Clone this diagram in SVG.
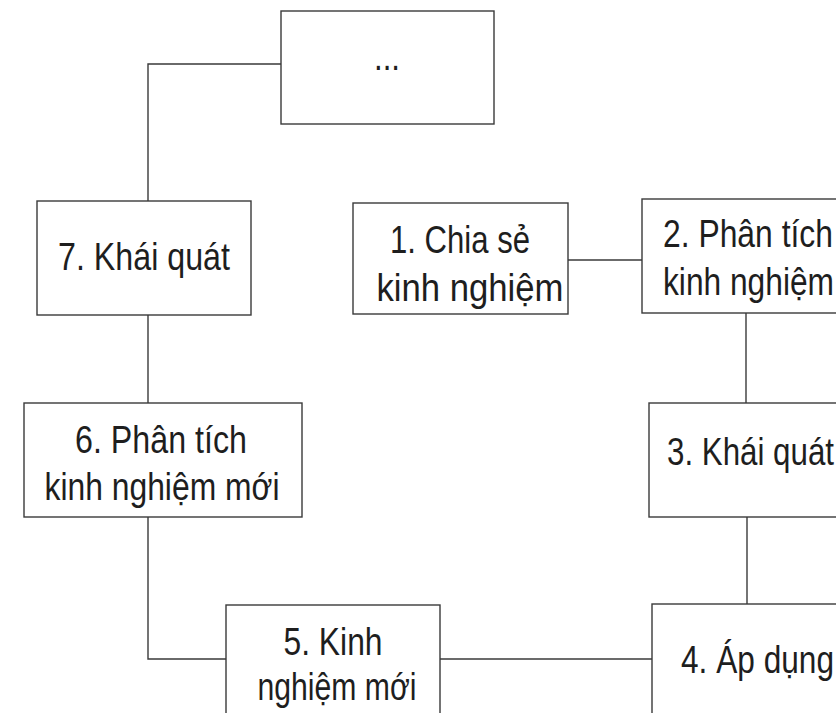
<svg xmlns="http://www.w3.org/2000/svg" width="836" height="713" viewBox="0 0 836 713">
  <style>
    .box { fill: #ffffff; stroke: #3a3a3a; stroke-width: 1.4; }
    .conn { fill: none; stroke: #3a3a3a; stroke-width: 1.4; }
    .lbl { font-family: "Liberation Sans", Arial, sans-serif; font-size: 38px; fill: #1e1e1e; }
    .mid { text-anchor: middle; }
  </style>
  <rect width="836" height="713" fill="#ffffff"/>
  <g id="connectors">
    <path class="conn" d="M281,64 H148 V201"/>
    <path class="conn" d="M148,315 V403"/>
    <path class="conn" d="M148,517 V659 H226"/>
    <path class="conn" d="M440,659 H652"/>
    <path class="conn" d="M747,604 V517"/>
    <path class="conn" d="M746,403 V313"/>
    <path class="conn" d="M568,260 H642"/>
  </g>
  <g id="node-dots">
    <rect class="box" x="281" y="11" width="213" height="113"/>
    <text class="lbl mid" x="387" y="70" textLength="26" lengthAdjust="spacingAndGlyphs">...</text>
  </g>
  <g id="node-1">
    <rect class="box" x="353" y="203" width="215" height="111"/>
    <text class="lbl mid" x="460" y="253" textLength="140" lengthAdjust="spacingAndGlyphs">1. Chia sẻ</text>
    <text class="lbl mid" x="470" y="301" textLength="187" lengthAdjust="spacingAndGlyphs">kinh nghiệm</text>
  </g>
  <g id="node-2">
    <rect class="box" x="642" y="199" width="230" height="114"/>
    <text class="lbl" x="663" y="247" textLength="170" lengthAdjust="spacingAndGlyphs">2. Phân tích</text>
    <text class="lbl" x="663" y="295" textLength="171" lengthAdjust="spacingAndGlyphs">kinh nghiệm</text>
  </g>
  <g id="node-3">
    <rect class="box" x="649" y="403" width="220" height="114"/>
    <text class="lbl" x="667" y="465" textLength="167" lengthAdjust="spacingAndGlyphs">3. Khái quát</text>
  </g>
  <g id="node-4">
    <rect class="box" x="652" y="604" width="220" height="140"/>
    <text class="lbl" x="681" y="673" textLength="153" lengthAdjust="spacingAndGlyphs">4. Áp dụng</text>
  </g>
  <g id="node-5">
    <rect class="box" x="226" y="605" width="214" height="140"/>
    <text class="lbl mid" x="333" y="655" textLength="99" lengthAdjust="spacingAndGlyphs">5. Kinh</text>
    <text class="lbl mid" x="337" y="700" textLength="159" lengthAdjust="spacingAndGlyphs">nghiệm mới</text>
  </g>
  <g id="node-6">
    <rect class="box" x="24" y="403" width="278" height="114"/>
    <text class="lbl mid" x="161" y="453" textLength="172" lengthAdjust="spacingAndGlyphs">6. Phân tích</text>
    <text class="lbl mid" x="162" y="500" textLength="235" lengthAdjust="spacingAndGlyphs">kinh nghiệm mới</text>
  </g>
  <g id="node-7">
    <rect class="box" x="37" y="201" width="214" height="114"/>
    <text class="lbl mid" x="144" y="270" textLength="172" lengthAdjust="spacingAndGlyphs">7. Khái quát</text>
  </g>
</svg>
